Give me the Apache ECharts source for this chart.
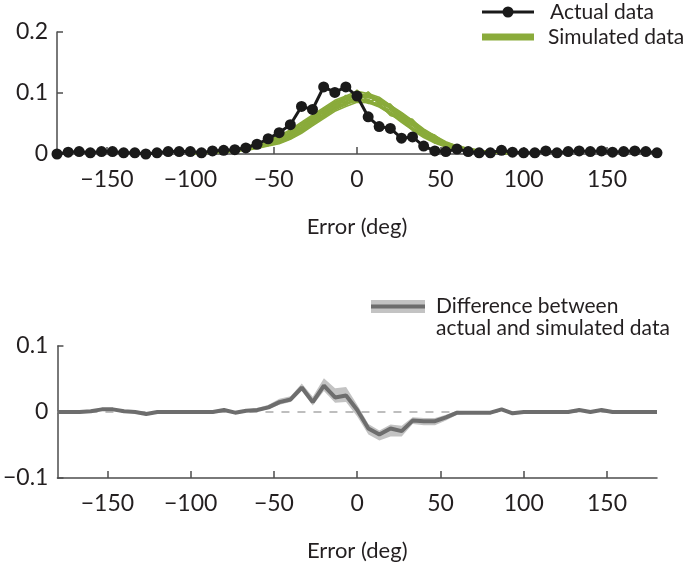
<!DOCTYPE html>
<html>
<head>
<meta charset="utf-8">
<script src="https://cdn.jsdelivr.net/npm/echarts@6/dist/echarts.min.js"></script>
<style>html,body{margin:0;padding:0;background:#fff}#c{width:697px;height:567px}</style>
</head>
<body>
<div id="c"></div>
<script>
// Error bins (deg), 55 bins from -180 to 180
var errorBins = [-180,-173.3,-166.7,-160,-153.3,-146.7,-140,-133.3,-126.7,-120,-113.3,-106.7,-100,-93.3,-86.7,-80,-73.3,-66.7,-60,-53.3,-46.7,-40,-33.3,-26.7,-20,-13.3,-6.7,0,6.7,13.3,20,26.7,33.3,40,46.7,53.3,60,66.7,73.3,80,86.7,93.3,100,106.7,113.3,120,126.7,133.3,140,146.7,153.3,160,166.7,173.3,180];
var xTicks = [-150,-100,-50,0,50,100,150];

// Actual data (probability per bin)
var actualData = [0.000,0.003,0.004,0.002,0.004,0.004,0.002,0.002,0.000,0.002,0.004,0.004,0.004,0.002,0.005,0.006,0.007,0.010,0.016,0.025,0.035,0.048,0.078,0.073,0.110,0.101,0.110,0.095,0.061,0.045,0.042,0.026,0.028,0.013,0.005,0.004,0.008,0.004,0.002,0.002,0.006,0.003,0.002,0.002,0.005,0.002,0.004,0.005,0.004,0.005,0.003,0.004,0.005,0.004,0.002];

// Simulated data curves, bins -100 .. 93.3 (index 12..41)
var simStart = 12;
var sim1  = [0.001,0.002,0.003,0.005,0.008,0.012,0.017,0.023,0.030,0.040,0.052,0.064,0.076,0.088,0.095,0.103,0.099,0.093,0.080,0.068,0.055,0.041,0.030,0.020,0.013,0.009,0.006,0.004,0.002,0.001];
var sim2  = [0.000,0.001,0.002,0.003,0.004,0.006,0.009,0.013,0.017,0.024,0.034,0.046,0.058,0.070,0.078,0.085,0.084,0.077,0.066,0.052,0.039,0.027,0.018,0.011,0.007,0.005,0.003,0.002,0.001,0.000];
var sim3  = [0.001,0.002,0.004,0.005,0.006,0.010,0.013,0.020,0.027,0.033,0.048,0.057,0.074,0.080,0.096,0.090,0.101,0.082,0.078,0.056,0.052,0.033,0.028,0.015,0.012,0.008,0.005,0.002,0.002,0.001];
var sim4  = [0.001,0.001,0.003,0.004,0.006,0.008,0.013,0.016,0.023,0.033,0.040,0.060,0.064,0.085,0.084,0.105,0.086,0.090,0.066,0.064,0.040,0.037,0.020,0.017,0.008,0.008,0.003,0.003,0.001,0.001];
var sim5  = [0.002,0.002,0.003,0.004,0.007,0.009,0.015,0.018,0.022,0.035,0.044,0.059,0.068,0.081,0.091,0.095,0.094,0.087,0.075,0.062,0.049,0.035,0.025,0.016,0.011,0.007,0.004,0.003,0.002,0.001];
var sim6  = [0.001,0.002,0.002,0.004,0.005,0.007,0.011,0.015,0.020,0.026,0.040,0.050,0.063,0.076,0.080,0.092,0.083,0.083,0.063,0.058,0.039,0.032,0.018,0.015,0.008,0.006,0.005,0.003,0.002,0.001];
var sim7  = [0.001,0.002,0.003,0.004,0.006,0.011,0.014,0.020,0.026,0.034,0.049,0.058,0.073,0.082,0.094,0.095,0.098,0.085,0.079,0.060,0.052,0.033,0.026,0.015,0.010,0.008,0.005,0.002,0.002,0.001];
var sim8  = [0.001,0.001,0.003,0.004,0.005,0.008,0.011,0.014,0.019,0.027,0.038,0.051,0.060,0.075,0.082,0.090,0.086,0.078,0.066,0.054,0.040,0.029,0.020,0.013,0.008,0.005,0.004,0.003,0.002,0.001];
var sim9  = [0.001,0.002,0.003,0.005,0.007,0.010,0.016,0.021,0.025,0.036,0.048,0.061,0.072,0.085,0.092,0.097,0.093,0.088,0.074,0.060,0.048,0.036,0.024,0.016,0.011,0.008,0.005,0.003,0.002,0.001];
var sim10 = [0.001,0.002,0.003,0.004,0.006,0.008,0.012,0.016,0.021,0.029,0.040,0.053,0.063,0.077,0.084,0.100,0.088,0.080,0.067,0.057,0.043,0.030,0.022,0.014,0.009,0.006,0.004,0.003,0.002,0.001];
var sim11 = [0.001,0.002,0.003,0.004,0.006,0.009,0.014,0.019,0.027,0.034,0.048,0.055,0.073,0.079,0.094,0.092,0.096,0.083,0.077,0.058,0.050,0.031,0.027,0.014,0.011,0.007,0.004,0.002,0.002,0.001];
var sim12 = [0.001,0.002,0.003,0.004,0.006,0.009,0.012,0.017,0.020,0.030,0.039,0.056,0.063,0.080,0.082,0.094,0.084,0.083,0.064,0.058,0.040,0.033,0.020,0.015,0.008,0.006,0.004,0.003,0.001,0.001];
var sim13 = [0.001,0.002,0.003,0.005,0.007,0.011,0.015,0.021,0.028,0.038,0.050,0.062,0.074,0.086,0.093,0.099,0.097,0.091,0.080,0.065,0.053,0.039,0.028,0.019,0.012,0.009,0.006,0.003,0.002,0.001];
var sim14 = [0.001,0.001,0.002,0.003,0.005,0.007,0.010,0.014,0.018,0.025,0.036,0.048,0.060,0.072,0.081,0.088,0.087,0.081,0.069,0.055,0.042,0.030,0.021,0.013,0.008,0.005,0.003,0.002,0.001,0.001];
var sim15 = [0.001,0.002,0.003,0.004,0.007,0.010,0.014,0.019,0.024,0.032,0.045,0.054,0.070,0.078,0.090,0.087,0.102,0.084,0.082,0.061,0.057,0.036,0.031,0.017,0.014,0.009,0.006,0.003,0.002,0.001];
var sim16 = [0.001,0.001,0.002,0.004,0.005,0.008,0.011,0.016,0.021,0.028,0.041,0.052,0.066,0.079,0.087,0.091,0.093,0.086,0.076,0.063,0.051,0.038,0.027,0.018,0.011,0.008,0.005,0.003,0.001,0.001];
var sim17 = [0.001,0.002,0.003,0.005,0.006,0.009,0.013,0.018,0.023,0.031,0.043,0.057,0.069,0.083,0.089,0.098,0.095,0.090,0.077,0.067,0.054,0.040,0.029,0.019,0.013,0.008,0.006,0.003,0.002,0.001];
var sim18 = [0.001,0.001,0.002,0.003,0.005,0.007,0.010,0.015,0.019,0.027,0.037,0.050,0.062,0.074,0.083,0.086,0.090,0.079,0.072,0.057,0.046,0.032,0.024,0.014,0.009,0.006,0.004,0.002,0.001,0.001];
var simCurves = [sim1,sim2,sim3,sim4,sim5,sim6,sim7,sim8,sim9,sim10,sim11,sim12,sim13,sim14,sim15,sim16,sim17,sim18];

// Difference between actual and simulated data
var diffData = [0,0,0,0.001,0.004,0.004,0.001,0,-0.003,0,0,0,0,0,0,0.003,-0.001,0.002,0.003,0.007,0.015,0.019,0.037,0.015,0.040,0.022,0.025,0.003,-0.025,-0.034,-0.025,-0.029,-0.013,-0.014,-0.014,-0.008,-0.001,-0.001,-0.001,-0.001,0.004,-0.002,0,0,0,0,0,0.003,0,0.003,0,0,0,0,0];
var diffHigh = [0.0015,0.0015,0.0015,0.0025,0.0055,0.0055,0.0025,0.0015,-0.0015,0.0015,0.0015,0.0015,0.0015,0.0015,0.0015,0.0045,0.0005,0.0035,
  0.006,0.011,0.020,0.024,0.043,0.023,0.051,0.036,0.038,0.011,-0.018,-0.028,-0.019,-0.021,-0.008,-0.009,-0.009,-0.004,0.002,
  0.0005,0.0005,0.0005,0.0055,-0.0005,0.0015,0.0015,0.0015,0.0015,0.0015,0.0045,0.0015,0.0045,0.0015,0.0015,0.0015,0.0015,0.0015];
var diffLow = [-0.0015,-0.0015,-0.0015,-0.0005,0.0025,0.0025,-0.0005,-0.0015,-0.0045,-0.0015,-0.0015,-0.0015,-0.0015,-0.0015,-0.0015,0.0015,-0.0025,0.0005,
  0.001,0.004,0.011,0.015,0.032,0.010,0.032,0.014,0.015,-0.007,-0.034,-0.043,-0.037,-0.037,-0.018,-0.020,-0.020,-0.013,-0.004,
  -0.0025,-0.0025,-0.0025,0.0025,-0.0035,-0.0015,-0.0015,-0.0015,-0.0015,-0.0015,0.0015,-0.0015,0.0015,-0.0015,-0.0015,-0.0015,-0.0015,-0.0015];

var FONT = 'Lato';
var TXT = '#231f20';
var AX = '#4d4d4d';
function minusFmt(v){ return v < 0 ? '\u2212' + String(Math.abs(v)) : String(v); }

function xAxisCfg(gi){
  return {
    type:'value', gridIndex:gi, min:-180, max:180,
    axisLine:{show:true, onZero:false, lineStyle:{color:AX, width:1.5}},
    axisTick:{show:true, inside:true, length:7, customValues:xTicks, lineStyle:{color:AX, width:1.5}},
    axisLabel:{customValues:xTicks, formatter:minusFmt, color:TXT, fontFamily:FONT, fontSize:23, margin:14},
    splitLine:{show:false},
    name:'Error (deg)', nameLocation:'middle', nameGap:62,
    nameTextStyle:{color:TXT, fontFamily:FONT, fontSize:22}
  };
}
function yAxisCfg(gi, mn, mx){
  return {
    type:'value', gridIndex:gi, min:mn, max:mx, interval:0.1,
    axisLine:{show:true, onZero:false, lineStyle:{color:AX, width:1.5}},
    axisTick:{show:true, inside:true, length:6, lineStyle:{color:AX, width:1.5}},
    axisLabel:{formatter:function(v){ return minusFmt(Math.round(v*10)/10); }, color:TXT, fontFamily:FONT, fontSize:23, margin:9},
    splitLine:{show:false}
  };
}

var series = [];
simCurves.forEach(function(c){
  series.push({
    type:'line', xAxisIndex:0, yAxisIndex:0, name:'Simulated data',
    data:c.map(function(v,j){ return [errorBins[simStart+j], v]; }),
    showSymbol:false, symbol:'none', silent:true,
    lineStyle:{color:'#8aab3b', width:1.6}, z:2, animation:false
  });
});
series.push({
  type:'line', xAxisIndex:0, yAxisIndex:0, name:'Actual data',
  data:actualData.map(function(v,i){ return [errorBins[i], v]; }),
  symbol:'circle', symbolSize:11, showSymbol:true,
  itemStyle:{color:'#1a1a1a'}, lineStyle:{color:'#1a1a1a', width:3}, z:5, animation:false
});
// band between diffLow and diffHigh, drawn through the axis scales
series.push({
  type:'custom', xAxisIndex:1, yAxisIndex:1, silent:true, animation:false, z:2,
  data:errorBins.map(function(x,i){ return [x, diffLow[i], diffHigh[i]]; }),
  renderItem:function(params, api){
    if (params.dataIndex !== 0) return null;
    var pts = [];
    for (var i = 0; i < errorBins.length; i++) pts.push(api.coord([errorBins[i], diffHigh[i]]));
    for (var j = errorBins.length - 1; j >= 0; j--) pts.push(api.coord([errorBins[j], diffLow[j]]));
    return {type:'polygon', shape:{points:pts}, style:{fill:'#c3c3c3'}};
  }
});
// zero dashed reference
series.push({
  type:'line', xAxisIndex:1, yAxisIndex:1,
  data:[[-180,0],[180,0]], symbol:'none', silent:true, animation:false, z:3,
  lineStyle:{color:'#a9a9a9', width:1.6, type:[8,8]}
});
series.push({
  type:'line', xAxisIndex:1, yAxisIndex:1, name:'Difference',
  data:diffData.map(function(v,i){ return [errorBins[i], v]; }),
  symbol:'none', lineStyle:{color:'#6d6d6d', width:4}, silent:true, animation:false, z:4
});

var chart = echarts.init(document.getElementById('c'), null, {renderer:'canvas'});
chart.setOption({
  backgroundColor:'#ffffff',
  animation:false,
  grid:[
    {left:57, top:32, width:600, height:122},
    {left:57, top:346, width:600, height:132}
  ],
  xAxis:[xAxisCfg(0), xAxisCfg(1)],
  yAxis:[yAxisCfg(0, 0, 0.2), yAxisCfg(1, -0.1, 0.1)],
  series:series,
  graphic:[
    {type:'line', shape:{x1:482,y1:12,x2:534,y2:12}, style:{stroke:'#1a1a1a', lineWidth:3}},
    {type:'circle', shape:{cx:508,cy:12,r:5.5}, style:{fill:'#1a1a1a'}},
    {type:'text', x:550, y:12, style:{text:'Actual data', fill:TXT, font:'21px Lato', verticalAlign:'middle'}},
    {type:'line', shape:{x1:482,y1:37,x2:534,y2:37}, style:{stroke:'#8aab3b', lineWidth:7}},
    {type:'text', x:548, y:37, style:{text:'Simulated data', fill:TXT, font:'21px Lato', verticalAlign:'middle'}},
    {type:'rect', shape:{x:371,y:300,width:54,height:13}, style:{fill:'#c3c3c3'}},
    {type:'line', shape:{x1:371,y1:306.5,x2:425,y2:306.5}, style:{stroke:'#6d6d6d', lineWidth:4}},
    {type:'text', x:436, y:306, style:{text:'Difference between', fill:TXT, font:'21px Lato', verticalAlign:'middle'}},
    {type:'text', x:436, y:328, style:{text:'actual and simulated data', fill:TXT, font:'21px Lato', verticalAlign:'middle'}}
  ]
});
</script>
</body>
</html>
